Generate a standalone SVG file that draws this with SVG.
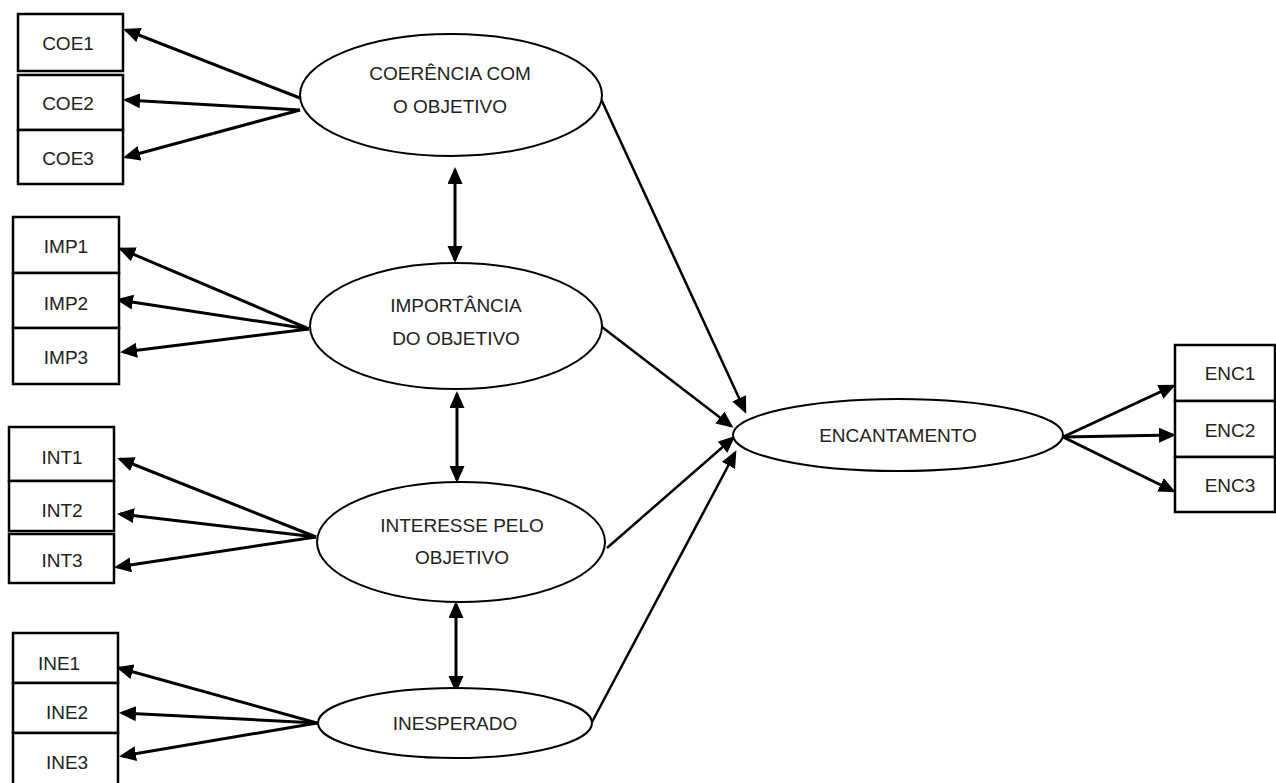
<svg xmlns="http://www.w3.org/2000/svg" width="1276" height="783" viewBox="0 0 1276 783">
<defs>
<marker id="ah" markerUnits="userSpaceOnUse" markerWidth="18" markerHeight="16" refX="14" refY="7.5" orient="auto-start-reverse" viewBox="0 0 18 16">
<path d="M0,0 L17,7.5 L0,15 z" fill="#000"/>
</marker>
</defs>
<style>
.box{fill:#fff;stroke:#000;stroke-width:2.5}
.ell{fill:#fff;stroke:#000;stroke-width:2}
.t{font-family:"Liberation Sans",Arial,sans-serif;font-size:19px;fill:#222;text-anchor:middle}
.c{stroke:#000;stroke-width:3;fill:none;marker-end:url(#ah)}
.b{stroke:#000;stroke-width:3;fill:none;marker-end:url(#ah);marker-start:url(#ah)}
.l{stroke:#000;stroke-width:2.5;fill:none;marker-end:url(#ah)}
</style>
<rect width="1276" height="783" fill="#fff"/>

<g id="connectors">
<line class="c" x1="300" y1="98" x2="126" y2="30"/>
<line class="c" x1="300" y1="110" x2="126" y2="100"/>
<line class="c" x1="300" y1="110" x2="126" y2="157"/>
<line class="c" x1="309" y1="329" x2="121" y2="249"/>
<line class="c" x1="309" y1="329" x2="119" y2="300"/>
<line class="c" x1="309" y1="329" x2="123" y2="352"/>
<line class="c" x1="316" y1="537" x2="120" y2="459"/>
<line class="c" x1="316" y1="537" x2="120" y2="514"/>
<line class="c" x1="316" y1="537" x2="117" y2="567"/>
<line class="c" x1="317" y1="723" x2="119" y2="668"/>
<line class="c" x1="317" y1="723" x2="122" y2="713"/>
<line class="c" x1="317" y1="723" x2="122" y2="756"/>
<line class="b" x1="455" y1="170" x2="455" y2="260"/>
<line class="b" x1="457" y1="394" x2="457" y2="480"/>
<line class="b" x1="456" y1="604" x2="456" y2="690"/>
<line class="l" x1="601" y1="99" x2="745" y2="411"/>
<line class="l" x1="602" y1="327" x2="731" y2="426"/>
<line class="l" x1="607" y1="548" x2="733" y2="438"/>
<line class="l" x1="592" y1="722" x2="735" y2="453"/>
<line class="c" x1="1063" y1="437" x2="1173" y2="386"/>
<line class="c" x1="1063" y1="437" x2="1173" y2="435"/>
<line class="c" x1="1063" y1="437" x2="1173" y2="491"/>
</g>

<g id="COE1"><rect class="box" x="18" y="14" width="105" height="57"/><text class="t" x="68" y="50">COE1</text></g>
<g id="COE2"><rect class="box" x="18" y="75" width="105" height="55"/><text class="t" x="68" y="110">COE2</text></g>
<g id="COE3"><rect class="box" x="18" y="130" width="105" height="54"/><text class="t" x="68" y="165">COE3</text></g>

<g id="IMP1"><rect class="box" x="13" y="217" width="106" height="56"/><text class="t" x="66" y="253">IMP1</text></g>
<g id="IMP2"><rect class="box" x="13" y="273" width="106" height="55"/><text class="t" x="66" y="310">IMP2</text></g>
<g id="IMP3"><rect class="box" x="13" y="328" width="106" height="56"/><text class="t" x="66" y="364">IMP3</text></g>

<g id="INT1"><rect class="box" x="9" y="427" width="105" height="54"/><text class="t" x="62" y="464">INT1</text></g>
<g id="INT2"><rect class="box" x="9" y="481" width="105" height="50"/><text class="t" x="62" y="517">INT2</text></g>
<g id="INT3"><rect class="box" x="9" y="534" width="105" height="49"/><text class="t" x="62" y="567">INT3</text></g>

<g id="INE1"><rect class="box" x="13" y="633" width="105" height="50"/><text class="t" x="59" y="670">INE1</text></g>
<g id="INE2"><rect class="box" x="13" y="683" width="105" height="50"/><text class="t" x="67" y="719">INE2</text></g>
<g id="INE3"><rect class="box" x="13" y="733" width="105" height="60"/><text class="t" x="67" y="769">INE3</text></g>

<g id="ENC1"><rect class="box" x="1175" y="345" width="100" height="56"/><text class="t" x="1230" y="380">ENC1</text></g>
<g id="ENC2"><rect class="box" x="1175" y="401" width="100" height="56"/><text class="t" x="1230" y="437">ENC2</text></g>
<g id="ENC3"><rect class="box" x="1175" y="457" width="100" height="55"/><text class="t" x="1230" y="492">ENC3</text></g>

<g id="COERENCIA"><ellipse class="ell" cx="451" cy="95" rx="151" ry="61"/><text class="t" x="450" y="80">COERÊNCIA COM</text><text class="t" x="450" y="113">O OBJETIVO</text></g>
<g id="IMPORTANCIA"><ellipse class="ell" cx="456" cy="326" rx="146" ry="63"/><text class="t" x="456" y="312">IMPORTÂNCIA</text><text class="t" x="456" y="345">DO OBJETIVO</text></g>
<g id="INTERESSE"><ellipse class="ell" cx="461" cy="542" rx="144" ry="60"/><text class="t" x="462" y="532">INTERESSE PELO</text><text class="t" x="462" y="564">OBJETIVO</text></g>
<g id="INESPERADO"><ellipse class="ell" cx="455" cy="723" rx="137" ry="35"/><text class="t" x="455" y="730">INESPERADO</text></g>
<g id="ENCANTAMENTO"><ellipse class="ell" cx="898" cy="435" rx="165" ry="36"/><text class="t" x="898" y="442">ENCANTAMENTO</text></g>
</svg>
